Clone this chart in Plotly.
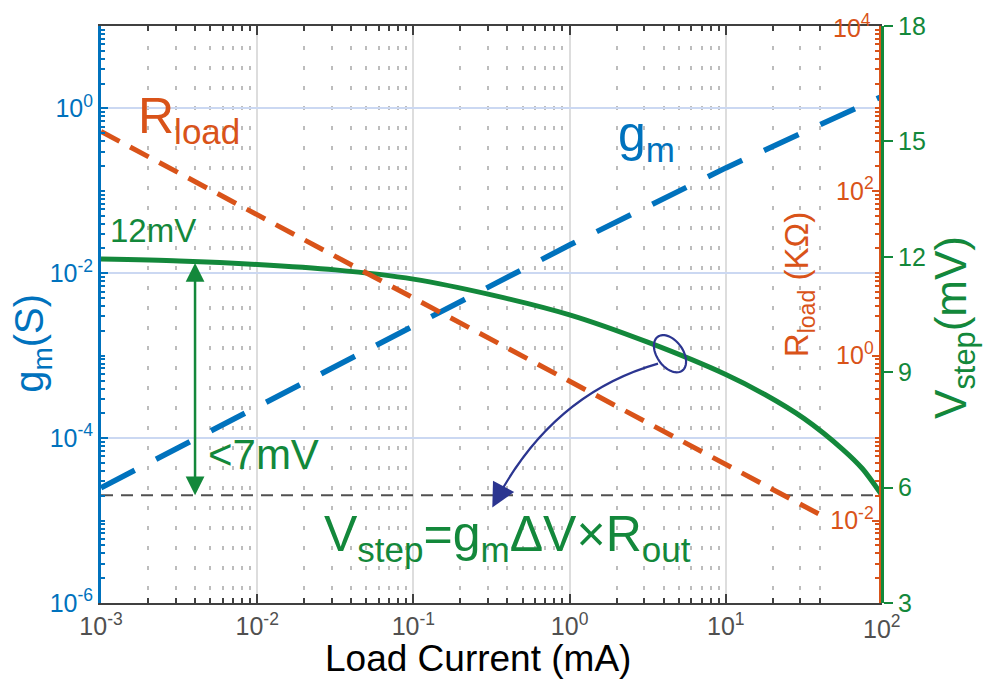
import numpy as np
import plotly.graph_objects as go

# ---------------- data ----------------
gm_current = [1e-3, 1e-2, 1e-1, 1, 10, 100]                 # mA
gm_siemens = [2.5e-5, 2.4e-4, 2.3e-3, 0.022, 0.19, 1.4]      # S

rload_current = [1e-3, 1e-2, 1e-1, 1, 10, 43]                 # mA
rload_kohm = [525, 51, 5.0, 0.49, 0.048, 0.011]               # kOhm

vstep_current = [1e-3, 3.16e-3, 1e-2, 3.16e-2, 1e-1, 3.16e-1, 1, 3.16, 10,
                 17.8, 31.6, 56.2, 75.0, 100]
vstep_mv = [11.94, 11.89, 11.80, 11.66, 11.42, 11.01, 10.49, 9.78, 8.94,
            8.42, 7.80, 6.99, 6.49, 5.80]

threshold_current = [1e-3, 100]
threshold_mv = [5.8, 5.8]

arrow_current = 0.004        # position of the green double arrow
arrow_top_mv = 11.88
arrow_bottom_mv = 5.8

x_tick_vals = [1e-3, 1e-2, 1e-1, 1, 10]
x_tick_text = ["10<sup>-3</sup>", "10<sup>-2</sup>", "10<sup>-1</sup>", "10<sup>0</sup>",
               "10<sup>1</sup>"]
x_last_tick = 100
x_last_text = "10<sup>2</sup>"
gm_tick_vals = [1e-6, 1e-4, 1e-2, 1]
gm_tick_text = ["10<sup>-6</sup>", "10<sup>-4</sup>", "10<sup>-2</sup>", "10<sup>0</sup>"]
r_tick_vals = [1e-2, 1, 1e2]
r_tick_text = ["10<sup>-2</sup>", "10<sup>0</sup>", "10<sup>2</sup>"]
r_top_label = "10<sup>4</sup>"
v_tick_vals = [3, 6, 9, 12, 15, 18]

# ---------------- styles ----------------
BLUE = "#0072BD"
RED = "#D95319"
GREEN = "#13883B"
NAVY = "#2B3590"
GRAY = "#404040"
FONT = "Liberation Sans, Arial, sans-serif"
TICK = 25

W, H = 983, 679
L, R, T, B = 101, 882, 22, 603


def px(X):
    return (X - L) / (R - L)


def py(Y):
    return (B - Y) / (B - T)


def minor_vals(lo, hi):
    out = []
    for e in range(lo, hi):
        for k in range(1, 10):
            out.append(k * 10.0 ** e)
    out.append(10.0 ** hi)
    return out


def minor_vals_x(lo, hi):
    out = []
    for e in range(lo, hi):
        for k in range(2, 10):
            out.append(k * 10.0 ** e)
    return out


fig = go.Figure()

fig.add_trace(go.Scatter(x=gm_current, y=gm_siemens, mode="lines", yaxis="y",
                         line=dict(color=BLUE, width=5.5, dash="38px,24px"),
                         showlegend=False, hoverinfo="skip"))
fig.add_trace(go.Scatter(x=threshold_current, y=threshold_mv, mode="lines", yaxis="y2",
                         line=dict(color="#505050", width=2, dash="12px,8px"),
                         showlegend=False, hoverinfo="skip"))
fig.add_trace(go.Scatter(x=vstep_current, y=vstep_mv, mode="lines", yaxis="y2",
                         line=dict(color=GREEN, width=5, shape="spline", smoothing=0.8),
                         showlegend=False, hoverinfo="skip"))
fig.add_trace(go.Scatter(x=rload_current, y=rload_kohm, mode="lines", yaxis="y3",
                         line=dict(color=RED, width=5, dash="21px,12px"),
                         showlegend=False, hoverinfo="skip"))

fig.update_layout(
    width=W, height=H,
    margin=dict(l=L, r=W - R, t=T, b=H - B),
    paper_bgcolor="white", plot_bgcolor="white",
    font=dict(family=FONT),
    xaxis=dict(
        type="log", range=[-3, 2], domain=[0, 1],
        showline=True, linecolor=GRAY, linewidth=2, mirror="ticks",
        ticks="inside", ticklen=9, tickwidth=2, tickcolor=GRAY,
        tickmode="array", tickvals=x_tick_vals, ticktext=x_tick_text,
        tickfont=dict(size=TICK, color="#505050", family=FONT),
        showgrid=True, gridcolor="#dddddd", gridwidth=2,
        minor=dict(tickmode="array", tickvals=minor_vals_x(-3, 2), ticks="inside",
                   ticklen=5, tickwidth=2, tickcolor=GRAY,
                   showgrid=True, gridcolor="#bdbdbd", gridwidth=2, griddash="4px,16px"),
        zeroline=False,
    ),
    yaxis=dict(
        type="log", range=[-6, 1], side="left",
        showline=True, linecolor=BLUE, linewidth=3,
        ticks="inside", ticklen=7, tickwidth=2, tickcolor=BLUE,
        tickmode="array", tickvals=gm_tick_vals, ticktext=gm_tick_text,
        tickfont=dict(size=TICK, color=BLUE, family=FONT),
        showgrid=True, gridcolor="#cbd8f2", gridwidth=2,
        minor=dict(tickmode="array", tickvals=minor_vals(-6, 1), ticks="inside",
                   ticklen=4, tickwidth=2, tickcolor=BLUE, showgrid=False),
        zeroline=False,
    ),
    yaxis2=dict(
        overlaying="y", side="right", anchor="free", position=1,
        range=[3, 18], tickmode="array", tickvals=v_tick_vals,
        showline=True, linecolor=GREEN, linewidth=3,
        ticks="outside", ticklen=9, tickwidth=2, tickcolor=GREEN,
        tickfont=dict(size=TICK, color=GREEN, family=FONT),
        showgrid=False, zeroline=False,
    ),
    yaxis3=dict(
        overlaying="y", side="right", anchor="free", position=0.997,
        type="log", range=[-3, 4],
        showline=True, linecolor=RED, linewidth=2,
        ticks="inside", ticklabelposition="inside", ticklen=7, tickwidth=2, tickcolor=RED,
        tickmode="array", tickvals=r_tick_vals, ticktext=r_tick_text,
        tickfont=dict(size=TICK, color=RED, family=FONT),
        minor=dict(tickmode="array", tickvals=minor_vals(-3, 4), ticks="inside",
                   ticklen=4, tickwidth=2, tickcolor=RED, showgrid=False),
        showgrid=False, zeroline=False,
    ),
)

ann = []
# last x tick label (placed at the right edge of the x axis)
ann.append(dict(xref="x", yref="paper", x=np.log10(x_last_tick), y=py(627),
                xanchor="center", yanchor="middle", text=x_last_text, showarrow=False,
                font=dict(size=TICK, color="#505050", family=FONT)))
# axis titles
ann.append(dict(xref="paper", yref="paper", x=px(478), y=py(659), xanchor="center", yanchor="middle",
                text="Load Current (mA)", showarrow=False,
                font=dict(size=37, color="black", family=FONT)))
ann.append(dict(xref="paper", yref="paper", x=px(32), y=py(342), xanchor="center", yanchor="middle",
                text="g<sub>m</sub>(S)", textangle=-90, showarrow=False,
                font=dict(size=40, color=BLUE, family=FONT)))
ann.append(dict(xref="paper", yref="paper", x=px(954), y=py(326), xanchor="center", yanchor="middle",
                text="V<sub>step</sub>(mV)", textangle=-90, showarrow=False,
                font=dict(size=44, color=GREEN, family=FONT)))
ann.append(dict(xref="paper", yref="paper", x=px(799), y=py(283), xanchor="center", yanchor="middle",
                text="R<sub>load</sub> (KΩ)", textangle=-90, showarrow=False,
                font=dict(size=33, color=RED, family=FONT)))
ann.append(dict(xref="paper", yref="paper", x=px(873), y=py(22), xanchor="right", yanchor="middle",
                text=r_top_label, showarrow=False,
                font=dict(size=TICK, color=RED, family=FONT)))
# in-plot labels
ann.append(dict(xref="paper", yref="paper", x=px(136), y=py(116), xanchor="left", yanchor="middle",
                text="R<sub>load</sub>", showarrow=False,
                font=dict(size=50, color=RED, family=FONT)))
ann.append(dict(xref="paper", yref="paper", x=px(616), y=py(134), xanchor="left", yanchor="middle",
                text="g<sub>m</sub>", showarrow=False,
                font=dict(size=50, color=BLUE, family=FONT)))
ann.append(dict(xref="paper", yref="paper", x=px(108), y=py(228), xanchor="left", yanchor="middle",
                text="12mV", showarrow=False,
                font=dict(size=33, color=GREEN, family=FONT)))
ann.append(dict(xref="paper", yref="paper", x=px(206), y=py(453), xanchor="left", yanchor="middle",
                text="&lt;7mV", showarrow=False,
                font=dict(size=42, color=GREEN, family=FONT)))
ann.append(dict(xref="paper", yref="paper", x=px(322), y=py(537), xanchor="left", yanchor="middle",
                text="V<sub>step</sub>=g<sub>m</sub>ΔV×R<sub>out</sub>", showarrow=False,
                font=dict(size=50, color=GREEN, family=FONT)))
# green double arrow
ann.append(dict(xref="x", yref="y2", axref="x", ayref="y2",
                x=np.log10(arrow_current), y=arrow_bottom_mv,
                ax=np.log10(arrow_current), ay=arrow_top_mv,
                text="", showarrow=True, arrowside="end+start",
                arrowhead=2, arrowsize=1.5, arrowwidth=2.5, arrowcolor=GREEN,
                standoff=0, startstandoff=0))
# navy arrow head at end of curved arrow
P0 = np.array([658.0, 362.0])
C = np.array([553.5, 392.0])
P2 = np.array([497.0, 498.0])
d = P2 - C
d = d / np.linalg.norm(d)
tip = P2 + d * 10
ann.append(dict(xref="paper", yref="paper", x=px(tip[0]), y=py(tip[1]),
                ax=-d[0] * 16, ay=-d[1] * 16, axref="pixel", ayref="pixel",
                text="", showarrow=True, arrowhead=2, arrowsize=2.4, arrowwidth=2,
                arrowcolor=NAVY, standoff=0))
fig.update_layout(annotations=ann)

# ellipse
cx, cy, a, b, th = 670.0, 352.0, 21.0, 13.0, np.deg2rad(55)
t = np.linspace(0, 2 * np.pi, 60)
ex = cx + a * np.cos(t) * np.cos(th) - b * np.sin(t) * np.sin(th)
ey = cy + a * np.cos(t) * np.sin(th) + b * np.sin(t) * np.cos(th)
path = "M " + " L ".join(f"{px(X):.5f},{py(Y):.5f}" for X, Y in zip(ex, ey)) + " Z"
shapes = [dict(type="path", xref="paper", yref="paper", path=path,
               line=dict(color=NAVY, width=2.2))]
curve = (f"M {px(P0[0]):.5f},{py(P0[1]):.5f} Q {px(C[0]):.5f},{py(C[1]):.5f} "
         f"{px(P2[0]):.5f},{py(P2[1]):.5f}")
shapes.append(dict(type="path", xref="paper", yref="paper", path=curve,
                   line=dict(color=NAVY, width=2.2)))
# major x tick at the right edge
shapes.append(dict(type="line", xref="x", yref="paper", x0=x_last_tick, x1=x_last_tick,
                   y0=0, y1=1, line=dict(color="#dddddd", width=2), layer="below"))
fig.update_layout(shapes=shapes)

fig.write_html("out.html")
